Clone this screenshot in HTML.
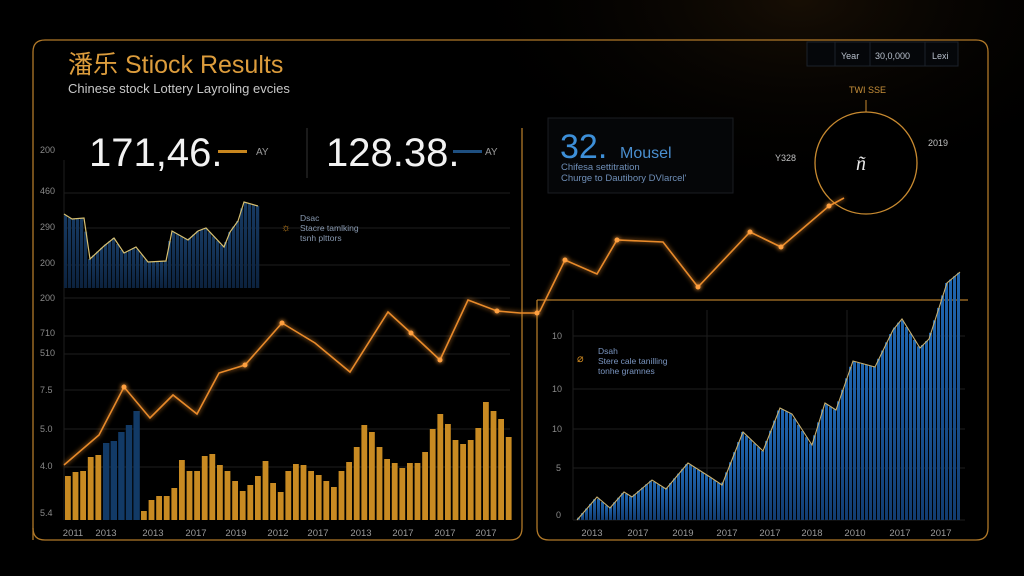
<!DOCTYPE html>
<html><head><meta charset="utf-8"><style>
html,body{margin:0;padding:0;background:#000;}
svg{display:block;font-family:"Liberation Sans","Noto Sans CJK SC",sans-serif;}
</style></head><body>
<svg id="s" width="1024" height="576" viewBox="0 0 1024 576" xmlns="http://www.w3.org/2000/svg">
<defs>
<radialGradient id="gl" cx="0.78" cy="0" r="0.35"><stop offset="0" stop-color="#2a1a08" stop-opacity="0.55"/><stop offset="1" stop-color="#000" stop-opacity="0"/></radialGradient>
<linearGradient id="bl" x1="0" y1="0" x2="0" y2="1"><stop offset="0" stop-color="#2066b0"/><stop offset="1" stop-color="#123c70"/></linearGradient>
<linearGradient id="bl2" x1="0" y1="0" x2="0" y2="1"><stop offset="0" stop-color="#173a62"/><stop offset="1" stop-color="#0c223e"/></linearGradient>
<filter id="glow" x="-20%" y="-20%" width="140%" height="140%"><feGaussianBlur stdDeviation="2.5" result="b"/><feMerge><feMergeNode in="b"/><feMergeNode in="SourceGraphic"/></feMerge></filter>
</defs>
<rect width="1024" height="576" fill="#000"/>
<rect width="1024" height="576" fill="url(#gl)"/>
<path d="M33 540 L33 52 Q33 40 45 40 L976 40 Q988 40 988 52 L988 528 Q988 540 976 540 L549 540 Q537 540 537 528 L537 300" fill="none" stroke="#b07828" stroke-width="1.3"/>
<path d="M33 528 Q33 540 45 540 L510 540 Q522 540 522 528 L522 128" fill="none" stroke="#b07828" stroke-width="1.3"/>
<line x1="537" y1="300" x2="968" y2="300" stroke="#b07828" stroke-width="1.3"/>
<line x1="307" y1="128" x2="307" y2="178" stroke="#333" stroke-width="1"/>
<g stroke="#1e1e1e" stroke-width="1">
<line x1="64" y1="193" x2="510" y2="193"/><line x1="64" y1="228" x2="510" y2="228"/><line x1="64" y1="265" x2="510" y2="265"/>
<line x1="64" y1="298" x2="510" y2="298"/><line x1="64" y1="336" x2="510" y2="336"/><line x1="64" y1="354" x2="510" y2="354"/>
<line x1="64" y1="390" x2="510" y2="390"/><line x1="64" y1="429" x2="510" y2="429"/><line x1="64" y1="467" x2="510" y2="467"/>
<line x1="64" y1="160" x2="64" y2="520"/>
<line x1="573" y1="336" x2="965" y2="336"/><line x1="573" y1="389" x2="965" y2="389"/><line x1="573" y1="429" x2="965" y2="429"/><line x1="573" y1="468" x2="965" y2="468"/><line x1="573" y1="520" x2="965" y2="520"/>
<line x1="573" y1="310" x2="573" y2="520"/><line x1="707" y1="310" x2="707" y2="520"/><line x1="847" y1="310" x2="847" y2="520"/>
</g>
<g fill="#8a8a8a" font-size="9">
<text x="40" y="153">200</text><text x="40" y="194">460</text><text x="40" y="230">290</text><text x="40" y="266">200</text>
<text x="40" y="301">200</text><text x="40" y="336">710</text><text x="40" y="356">510</text><text x="40" y="393">7.5</text>
<text x="40" y="432">5.0</text><text x="40" y="469">4.0</text><text x="40" y="516">5.4</text>
<text x="552" y="339">10</text><text x="552" y="392">10</text><text x="552" y="432">10</text><text x="556" y="471">5</text><text x="556" y="518">0</text>
</g>
<text x="68" y="73" fill="#dc9c3c" font-size="25">潘乐 Stiock Results</text>
<text x="68" y="93" fill="#c8c8c8" font-size="13">Chinese stock Lottery Layroling evcies</text>
<text x="89" y="166" fill="#f2f2f2" font-size="40" font-weight="300">171,46.</text>
<rect x="218" y="150" width="29" height="3" fill="#c8861e"/>
<text x="256" y="155" fill="#999" font-size="10">AY</text>
<text x="326" y="166" fill="#f2f2f2" font-size="40" font-weight="300">128.38.</text>
<rect x="453" y="150" width="29" height="3" fill="#1e4f80"/>
<text x="485" y="155" fill="#999" font-size="10">AY</text>
<g id="tl"></g>
<polyline fill="none" stroke="#d8c070" stroke-width="1.2" points="64,214 72,219 84,218 90,259 104,246 114,238 124,253 136,247 148,262 166,261 172,231 188,240 198,231 206,228 224,247 230,232 238,221 244,202 258,206"/>
<text x="281" y="231" fill="#d08a20" font-size="11">☼</text>
<g fill="#8899b0" font-size="8.5"><text x="300" y="221">Dsac</text><text x="300" y="231">Stacre tamlking</text><text x="300" y="241">tsnh plttors</text></g>
<text x="577" y="362" fill="#d08a20" font-size="11">⌀</text>
<g fill="#7a95c0" font-size="8.5"><text x="598" y="354">Dsah</text><text x="598" y="364">Stere cale tanilling</text><text x="598" y="374">tonhe gramnes</text></g>
<rect x="548" y="118" width="185" height="75" fill="#050608" stroke="#1a1d22"/>
<text x="560" y="158" fill="#3d8fd8" font-size="34">32.</text>
<text x="620" y="158" fill="#4a8fd0" font-size="16">Mousel</text>
<g fill="#6f8fb8" font-size="9.5"><text x="561" y="170">Chifesa settitration</text><text x="561" y="181">Churge to Dautibory DVlarcel'</text></g>
<rect x="807" y="42" width="151" height="24" fill="#05070a" stroke="#1c222a"/>
<g stroke="#1c222a"><line x1="835" y1="42" x2="835" y2="66"/><line x1="870" y1="42" x2="870" y2="66"/><line x1="925" y1="42" x2="925" y2="66"/></g>
<g fill="#b8c0cc" font-size="9"><text x="841" y="59">Year</text><text x="875" y="59">30,0,000</text><text x="932" y="59">Lexi</text></g>
<circle cx="866" cy="163" r="51" fill="#000" stroke="#c88a30" stroke-width="1.3"/>
<text x="849" y="93" fill="#c8903a" font-size="9">TWI SSE</text>
<line x1="866" y1="100" x2="866" y2="112" stroke="#c88a30"/>
<text x="928" y="146" fill="#c0c0c0" font-size="9">2019</text>
<text x="775" y="161" fill="#c0c0c0" font-size="9">Y328</text>
<text x="856" y="170" fill="#e8e8e8" font-size="20" font-style="italic" font-family="Liberation Serif,serif">ñ</text>
<g id="ob"></g>
<g id="ra"></g>
<polyline fill="none" stroke="#c8b070" stroke-width="1.1" points="577,520 597,497 610,508 624,492 632,497 652,480 666,489 688,463 710,477 722,485 743,432 763,451 780,408 792,414 812,445 825,403 836,410 853,361 875,367 893,330 902,319 920,348 929,339 947,283 960,272"/>
<polyline filter="url(#glow)" fill="none" stroke="#e88a2a" stroke-width="1.6" points="64,465 99,435 124,387 150,418 173,395 197,414 219,373 245,365 282,323 315,343 350,372 388,312 411,333 440,360 468,300 497,311 520,313 537,313 540,311 565,260 597,274 617,240 663,242 698,287 750,232 781,247 829,206 844,198"/>
<g id="dots" fill="#ffa040" filter="url(#glow)"></g>
<g fill="#9a9a9a" font-size="9.5" text-anchor="middle">
<text x="73" y="536">2011</text><text x="106" y="536">2013</text><text x="153" y="536">2013</text><text x="196" y="536">2017</text><text x="236" y="536">2019</text><text x="278" y="536">2012</text><text x="318" y="536">2017</text><text x="361" y="536">2013</text><text x="403" y="536">2017</text><text x="445" y="536">2017</text><text x="486" y="536">2017</text>
<text x="592" y="536">2013</text><text x="638" y="536">2017</text><text x="683" y="536">2019</text><text x="727" y="536">2017</text><text x="770" y="536">2017</text><text x="812" y="536">2018</text><text x="855" y="536">2010</text><text x="900" y="536">2017</text><text x="941" y="536">2017</text>
</g>
</svg>
<script>
var NS="http://www.w3.org/2000/svg";
function el(p,t,a){var e=document.createElementNS(NS,t);for(var k in a)e.setAttribute(k,a[k]);p.appendChild(e);return e;}
function interp(pts,x){for(var i=0;i<pts.length-1;i++){var a=pts[i],b=pts[i+1];if(x>=a[0]&&x<=b[0]){return a[1]+(b[1]-a[1])*(x-a[0])/(b[0]-a[0]);}}return pts[pts.length-1][1];}
var tl=[[64,214],[72,219],[84,218],[90,259],[104,246],[114,238],[124,253],[136,247],[148,262],[166,261],[172,231],[188,240],[198,231],[206,228],[224,247],[230,232],[238,221],[244,202],[258,206]];
var g=document.getElementById("tl");
for(var x=64;x<258;x+=4){var y=interp(tl,x+2);el(g,"rect",{x:x,y:y,width:3.2,height:288-y,fill:"url(#bl2)"});}
var ob=[476,472,471,457,455,443,441,432,425,411,511,500,496,496,488,460,471,471,456,454,465,471,481,491,485,476,461,483,492,471,464,465,471,475,481,487,471,462,447,425,432,447,459,463,468,463,463,452,429,414,424,440,444,440,428,402,411,419,437];
var o=document.getElementById("ob");
for(var i=0;i<ob.length;i++){var x=65+i*7.6;var blue=(i>=5&&i<=9);el(o,"rect",{x:x,y:ob[i],width:blue?6.4:5.8,height:520-ob[i],fill:blue?"#123a66":"#c88a22"});}
var ra=[[577,520],[597,497],[610,508],[624,492],[632,497],[652,480],[666,489],[688,463],[710,477],[722,485],[743,432],[763,451],[780,408],[792,414],[812,445],[825,403],[836,410],[853,361],[875,367],[893,330],[902,319],[920,348],[929,339],[947,283],[960,272]];
var r=document.getElementById("ra");
for(var x=577;x<960;x+=4){var y=interp(ra,x+2);el(r,"rect",{x:x,y:y,width:3,height:520-y,fill:"url(#bl)"});}
var d=document.getElementById("dots");
[[124,387],[245,365],[282,323],[411,333],[440,360],[497,311],[537,313],[565,260],[617,240],[698,287],[750,232],[781,247],[829,206]].forEach(function(p){el(d,"circle",{cx:p[0],cy:p[1],r:2.5});});
</script>
</body></html>
